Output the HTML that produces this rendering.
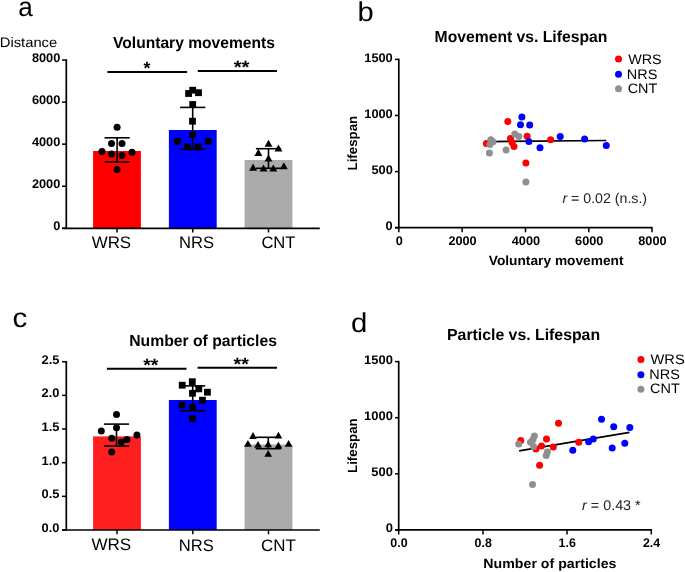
<!DOCTYPE html>
<html><head><meta charset="utf-8"><style>
html,body{margin:0;padding:0;background:#fff;width:685px;height:572px;overflow:hidden}
svg{display:block;will-change:transform}
text{font-family:"Liberation Sans", sans-serif;text-rendering:geometricPrecision}
</style></head><body>
<svg width="685" height="572" viewBox="0 0 685 572" font-family='"Liberation Sans", sans-serif'>
<rect width="685" height="572" fill="#fff"/>
<text transform="translate(18.16,16.10) scale(0.9634,1)" font-size="27.134" font-weight="normal" text-anchor="start" fill="#000">a</text>
<text transform="translate(-0.25,47.33) scale(1.0790,1)" font-size="13.704" font-weight="normal" text-anchor="start" fill="#000">Distance</text>
<text transform="translate(113.01,47.55) scale(0.9753,1)" font-size="16.003" font-weight="bold" text-anchor="start" fill="#000">Voluntary movements</text>
<line x1="62.00" y1="228.30" x2="66.30" y2="228.30" stroke="#000" stroke-width="1.5"/>
<line x1="62.00" y1="186.23" x2="66.30" y2="186.23" stroke="#000" stroke-width="1.5"/>
<line x1="62.00" y1="144.16" x2="66.30" y2="144.16" stroke="#000" stroke-width="1.5"/>
<line x1="62.00" y1="102.09" x2="66.30" y2="102.09" stroke="#000" stroke-width="1.5"/>
<line x1="62.00" y1="60.02" x2="66.30" y2="60.02" stroke="#000" stroke-width="1.5"/>
<text transform="translate(60.33,230.05) scale(1.0186,1)" font-size="12.563" font-weight="bold" text-anchor="end" fill="#000">0</text>
<text transform="translate(60.33,187.98) scale(1.0186,1)" font-size="12.563" font-weight="bold" text-anchor="end" fill="#000">2000</text>
<text transform="translate(60.33,145.91) scale(1.0186,1)" font-size="12.563" font-weight="bold" text-anchor="end" fill="#000">4000</text>
<text transform="translate(60.33,103.84) scale(1.0186,1)" font-size="12.563" font-weight="bold" text-anchor="end" fill="#000">6000</text>
<text transform="translate(60.33,61.77) scale(1.0186,1)" font-size="12.563" font-weight="bold" text-anchor="end" fill="#000">8000</text>
<line x1="66.30" y1="59.27" x2="66.30" y2="229.10" stroke="#000" stroke-width="1.7"/>
<rect x="93.10" y="151.00" width="47.80" height="77.30" fill="#ff0000"/>
<rect x="168.90" y="130.00" width="47.80" height="98.30" fill="#0000ff"/>
<rect x="244.60" y="160.00" width="47.80" height="68.30" fill="#ababab"/>
<line x1="62.00" y1="228.30" x2="319.80" y2="228.30" stroke="#000" stroke-width="1.7"/>
<line x1="117.00" y1="228.30" x2="117.00" y2="232.50" stroke="#000" stroke-width="1.5"/>
<line x1="192.80" y1="228.30" x2="192.80" y2="232.50" stroke="#000" stroke-width="1.5"/>
<line x1="268.50" y1="228.30" x2="268.50" y2="232.50" stroke="#000" stroke-width="1.5"/>
<text transform="translate(91.66,248.13) scale(1.0180,1)" font-size="16.646" font-weight="normal" text-anchor="start" fill="#000">WRS</text>
<text transform="translate(179.04,248.17) scale(0.9986,1)" font-size="16.646" font-weight="normal" text-anchor="start" fill="#000">NRS</text>
<text transform="translate(261.40,247.54) scale(0.9974,1)" font-size="16.646" font-weight="normal" text-anchor="start" fill="#000">CNT</text>
<circle cx="117.1" cy="127.3" r="3.5" fill="#000"/>
<circle cx="111.5" cy="143.5" r="3.5" fill="#000"/>
<circle cx="122" cy="143.5" r="3.5" fill="#000"/>
<circle cx="102" cy="151.5" r="3.5" fill="#000"/>
<circle cx="111.5" cy="154.1" r="3.5" fill="#000"/>
<circle cx="122" cy="155.5" r="3.5" fill="#000"/>
<circle cx="132" cy="152.3" r="3.5" fill="#000"/>
<circle cx="117.1" cy="169.4" r="3.5" fill="#000"/>
<line x1="117.10" y1="137.80" x2="117.10" y2="162.00" stroke="#000" stroke-width="1.6"/>
<line x1="104.50" y1="137.80" x2="129.70" y2="137.80" stroke="#000" stroke-width="1.6"/>
<line x1="104.50" y1="162.00" x2="129.70" y2="162.00" stroke="#000" stroke-width="1.6"/>
<rect x="185.20" y="90.10" width="6.8" height="6.8" fill="#000"/>
<rect x="189.30" y="86.80" width="6.8" height="6.8" fill="#000"/>
<rect x="195.10" y="89.30" width="6.8" height="6.8" fill="#000"/>
<rect x="189.30" y="101.10" width="6.8" height="6.8" fill="#000"/>
<rect x="189.10" y="117.80" width="6.8" height="6.8" fill="#000"/>
<rect x="189.30" y="131.10" width="6.8" height="6.8" fill="#000"/>
<rect x="174.20" y="138.00" width="6.8" height="6.8" fill="#000"/>
<rect x="204.70" y="138.00" width="6.8" height="6.8" fill="#000"/>
<rect x="184.30" y="143.60" width="6.8" height="6.8" fill="#000"/>
<rect x="194.80" y="143.60" width="6.8" height="6.8" fill="#000"/>
<line x1="192.70" y1="107.40" x2="192.70" y2="149.40" stroke="#000" stroke-width="1.6"/>
<line x1="180.10" y1="107.40" x2="205.30" y2="107.40" stroke="#000" stroke-width="1.6"/>
<line x1="180.10" y1="149.40" x2="205.30" y2="149.40" stroke="#000" stroke-width="1.6"/>
<line x1="268.50" y1="148.70" x2="268.50" y2="168.30" stroke="#000" stroke-width="1.6"/>
<line x1="255.90" y1="148.70" x2="281.10" y2="148.70" stroke="#000" stroke-width="1.6"/>
<line x1="255.90" y1="168.30" x2="281.10" y2="168.30" stroke="#000" stroke-width="1.6"/>
<polygon points="268.50,139.70 264.55,146.80 272.45,146.80" fill="#000"/>
<polygon points="278.50,144.40 274.55,151.50 282.45,151.50" fill="#000"/>
<polygon points="258.40,148.80 254.45,155.90 262.35,155.90" fill="#000"/>
<polygon points="268.50,154.40 264.55,161.50 272.45,161.50" fill="#000"/>
<polygon points="253.10,163.60 249.15,170.70 257.05,170.70" fill="#000"/>
<polygon points="263.50,164.40 259.55,171.50 267.45,171.50" fill="#000"/>
<polygon points="273.30,164.40 269.35,171.50 277.25,171.50" fill="#000"/>
<polygon points="283.80,162.20 279.85,169.30 287.75,169.30" fill="#000"/>
<line x1="107.40" y1="72.00" x2="187.10" y2="72.00" stroke="#000" stroke-width="2"/>
<line x1="197.80" y1="71.00" x2="277.00" y2="71.00" stroke="#000" stroke-width="2"/>
<text transform="translate(147.04,74.37) scale(1.0018,1)" font-size="17.734" font-weight="bold" text-anchor="middle" fill="#000">*</text>
<text transform="translate(241.59,73.28) scale(1.1450,1)" font-size="17.734" font-weight="bold" text-anchor="middle" fill="#000">**</text>
<text transform="translate(12.49,327.00) scale(1.0892,1)" font-size="27.134" font-weight="normal" text-anchor="start" fill="#000">c</text>
<text transform="translate(129.18,345.81) scale(0.9835,1)" font-size="16.003" font-weight="bold" text-anchor="start" fill="#000">Number of particles</text>
<line x1="62.00" y1="530.00" x2="66.30" y2="530.00" stroke="#000" stroke-width="1.5"/>
<line x1="62.00" y1="496.34" x2="66.30" y2="496.34" stroke="#000" stroke-width="1.5"/>
<line x1="62.00" y1="462.68" x2="66.30" y2="462.68" stroke="#000" stroke-width="1.5"/>
<line x1="62.00" y1="429.02" x2="66.30" y2="429.02" stroke="#000" stroke-width="1.5"/>
<line x1="62.00" y1="395.36" x2="66.30" y2="395.36" stroke="#000" stroke-width="1.5"/>
<line x1="62.00" y1="361.70" x2="66.30" y2="361.70" stroke="#000" stroke-width="1.5"/>
<text transform="translate(59.46,531.88) scale(1.0236,1)" font-size="12.563" font-weight="bold" text-anchor="end" fill="#000">0.0</text>
<text transform="translate(59.46,498.22) scale(1.0236,1)" font-size="12.563" font-weight="bold" text-anchor="end" fill="#000">0.5</text>
<text transform="translate(59.46,464.56) scale(1.0236,1)" font-size="12.563" font-weight="bold" text-anchor="end" fill="#000">1.0</text>
<text transform="translate(59.46,430.90) scale(1.0236,1)" font-size="12.563" font-weight="bold" text-anchor="end" fill="#000">1.5</text>
<text transform="translate(59.46,397.24) scale(1.0236,1)" font-size="12.563" font-weight="bold" text-anchor="end" fill="#000">2.0</text>
<text transform="translate(59.46,363.58) scale(1.0236,1)" font-size="12.563" font-weight="bold" text-anchor="end" fill="#000">2.5</text>
<line x1="66.30" y1="360.95" x2="66.30" y2="530.80" stroke="#000" stroke-width="1.7"/>
<rect x="93.10" y="436.40" width="47.80" height="93.60" fill="#ff1f1f"/>
<rect x="168.90" y="400.00" width="47.80" height="130.00" fill="#0000ff"/>
<rect x="244.60" y="444.50" width="47.80" height="85.50" fill="#ababab"/>
<line x1="62.00" y1="530.00" x2="319.80" y2="530.00" stroke="#000" stroke-width="1.7"/>
<line x1="117.00" y1="530.00" x2="117.00" y2="534.30" stroke="#000" stroke-width="1.5"/>
<line x1="192.80" y1="530.00" x2="192.80" y2="534.30" stroke="#000" stroke-width="1.5"/>
<line x1="268.50" y1="530.00" x2="268.50" y2="534.30" stroke="#000" stroke-width="1.5"/>
<text transform="translate(91.38,550.49) scale(1.0268,1)" font-size="16.646" font-weight="normal" text-anchor="start" fill="#000">WRS</text>
<text transform="translate(178.76,551.09) scale(0.9948,1)" font-size="16.646" font-weight="normal" text-anchor="start" fill="#000">NRS</text>
<text transform="translate(261.07,551.06) scale(1.0179,1)" font-size="16.646" font-weight="normal" text-anchor="start" fill="#000">CNT</text>
<circle cx="116.5" cy="414.5" r="3.5" fill="#000"/>
<circle cx="101.3" cy="430.9" r="3.5" fill="#000"/>
<circle cx="116.5" cy="427.8" r="3.5" fill="#000"/>
<circle cx="136.9" cy="435.1" r="3.5" fill="#000"/>
<circle cx="111.7" cy="438.3" r="3.5" fill="#000"/>
<circle cx="126.9" cy="439.6" r="3.5" fill="#000"/>
<circle cx="121.2" cy="442.1" r="3.5" fill="#000"/>
<circle cx="111.7" cy="451.9" r="3.5" fill="#000"/>
<line x1="116.50" y1="424.10" x2="116.50" y2="446.10" stroke="#000" stroke-width="1.6"/>
<line x1="103.90" y1="424.10" x2="129.10" y2="424.10" stroke="#000" stroke-width="1.6"/>
<line x1="103.90" y1="446.10" x2="129.10" y2="446.10" stroke="#000" stroke-width="1.6"/>
<line x1="192.70" y1="385.90" x2="192.70" y2="410.70" stroke="#000" stroke-width="1.6"/>
<line x1="180.10" y1="385.90" x2="205.30" y2="385.90" stroke="#000" stroke-width="1.6"/>
<line x1="180.10" y1="410.70" x2="205.30" y2="410.70" stroke="#000" stroke-width="1.6"/>
<rect x="178.80" y="381.80" width="6.8" height="6.8" fill="#000"/>
<rect x="188.90" y="378.30" width="6.8" height="6.8" fill="#000"/>
<rect x="195.40" y="385.50" width="6.8" height="6.8" fill="#000"/>
<rect x="189.10" y="389.90" width="6.8" height="6.8" fill="#000"/>
<rect x="204.00" y="388.80" width="6.8" height="6.8" fill="#000"/>
<rect x="199.10" y="396.80" width="6.8" height="6.8" fill="#000"/>
<rect x="178.80" y="401.70" width="6.8" height="6.8" fill="#000"/>
<rect x="189.10" y="404.30" width="6.8" height="6.8" fill="#000"/>
<rect x="189.10" y="415.40" width="6.8" height="6.8" fill="#000"/>
<line x1="268.30" y1="437.30" x2="268.30" y2="448.70" stroke="#000" stroke-width="1.6"/>
<line x1="255.70" y1="437.30" x2="280.90" y2="437.30" stroke="#000" stroke-width="1.6"/>
<line x1="255.70" y1="448.70" x2="280.90" y2="448.70" stroke="#000" stroke-width="1.6"/>
<polygon points="253.00,432.10 249.15,438.90 256.85,438.90" fill="#000"/>
<polygon points="278.40,431.70 274.55,438.50 282.25,438.50" fill="#000"/>
<polygon points="247.90,440.00 244.05,446.80 251.75,446.80" fill="#000"/>
<polygon points="258.00,440.90 254.15,447.70 261.85,447.70" fill="#000"/>
<polygon points="268.20,440.40 264.35,447.20 272.05,447.20" fill="#000"/>
<polygon points="278.40,441.70 274.55,448.50 282.25,448.50" fill="#000"/>
<polygon points="288.60,440.00 284.75,446.80 292.45,446.80" fill="#000"/>
<polygon points="268.20,450.00 264.35,456.80 272.05,456.80" fill="#000"/>
<line x1="106.90" y1="368.80" x2="186.50" y2="368.80" stroke="#000" stroke-width="2"/>
<line x1="197.60" y1="367.80" x2="277.00" y2="367.80" stroke="#000" stroke-width="2"/>
<text transform="translate(150.74,370.92) scale(1.0984,1)" font-size="17.734" font-weight="bold" text-anchor="middle" fill="#000">**</text>
<text transform="translate(241.21,369.57) scale(1.1053,1)" font-size="17.734" font-weight="bold" text-anchor="middle" fill="#000">**</text>
<text transform="translate(357.60,20.51) scale(1.0720,1)" font-size="27.134" font-weight="normal" text-anchor="start" fill="#000">b</text>
<text transform="translate(434.60,42.25) scale(0.9809,1)" font-size="16.003" font-weight="bold" text-anchor="start" fill="#000">Movement vs. Lifespan</text>
<line x1="395.00" y1="227.70" x2="398.80" y2="227.70" stroke="#000" stroke-width="1.5"/>
<line x1="395.00" y1="171.60" x2="398.80" y2="171.60" stroke="#000" stroke-width="1.5"/>
<line x1="395.00" y1="115.50" x2="398.80" y2="115.50" stroke="#000" stroke-width="1.5"/>
<line x1="395.00" y1="59.40" x2="398.80" y2="59.40" stroke="#000" stroke-width="1.5"/>
<text transform="translate(392.75,229.88) scale(1.0205,1)" font-size="12.563" font-weight="bold" text-anchor="end" fill="#000">0</text>
<text transform="translate(392.75,173.78) scale(1.0205,1)" font-size="12.563" font-weight="bold" text-anchor="end" fill="#000">500</text>
<text transform="translate(392.75,117.68) scale(1.0205,1)" font-size="12.563" font-weight="bold" text-anchor="end" fill="#000">1000</text>
<text transform="translate(392.75,61.58) scale(1.0205,1)" font-size="12.563" font-weight="bold" text-anchor="end" fill="#000">1500</text>
<line x1="398.80" y1="58.65" x2="398.80" y2="228.50" stroke="#000" stroke-width="1.7"/>
<line x1="395.00" y1="227.70" x2="652.60" y2="227.70" stroke="#000" stroke-width="1.7"/>
<line x1="398.80" y1="227.70" x2="398.80" y2="232.30" stroke="#000" stroke-width="1.5"/>
<text transform="translate(399.22,244.91) scale(1.0124,1)" font-size="12.563" font-weight="bold" text-anchor="middle" fill="#000">0</text>
<line x1="462.10" y1="227.70" x2="462.10" y2="232.30" stroke="#000" stroke-width="1.5"/>
<text transform="translate(462.52,244.91) scale(1.0124,1)" font-size="12.563" font-weight="bold" text-anchor="middle" fill="#000">2000</text>
<line x1="525.50" y1="227.70" x2="525.50" y2="232.30" stroke="#000" stroke-width="1.5"/>
<text transform="translate(525.92,244.91) scale(1.0124,1)" font-size="12.563" font-weight="bold" text-anchor="middle" fill="#000">4000</text>
<line x1="588.80" y1="227.70" x2="588.80" y2="232.30" stroke="#000" stroke-width="1.5"/>
<text transform="translate(589.22,244.91) scale(1.0124,1)" font-size="12.563" font-weight="bold" text-anchor="middle" fill="#000">6000</text>
<line x1="652.00" y1="227.70" x2="652.00" y2="232.30" stroke="#000" stroke-width="1.5"/>
<text transform="translate(652.42,244.91) scale(1.0124,1)" font-size="12.563" font-weight="bold" text-anchor="middle" fill="#000">8000</text>
<text transform="translate(488.76,265.45) scale(1.0326,1)" font-size="13.319" font-weight="bold" text-anchor="start" fill="#000">Voluntary movement</text>
<text transform="translate(356.9,143.15) rotate(-90)" font-size="13.3" font-weight="bold" text-anchor="middle">Lifespan</text>
<line x1="489.00" y1="141.60" x2="606.30" y2="140.50" stroke="#000" stroke-width="1.7"/>
<circle cx="486.4" cy="143.5" r="3.5" fill="#ff0000"/>
<circle cx="507.8" cy="121.6" r="3.5" fill="#ff0000"/>
<circle cx="510.5" cy="138.5" r="3.5" fill="#ff0000"/>
<circle cx="512" cy="142.5" r="3.5" fill="#ff0000"/>
<circle cx="514" cy="146.5" r="3.5" fill="#ff0000"/>
<circle cx="527.1" cy="136.2" r="3.5" fill="#ff0000"/>
<circle cx="525.9" cy="162.9" r="3.5" fill="#ff0000"/>
<circle cx="550.6" cy="139.8" r="3.5" fill="#ff0000"/>
<circle cx="521.9" cy="117" r="3.5" fill="#0000ff"/>
<circle cx="520.5" cy="124.8" r="3.5" fill="#0000ff"/>
<circle cx="529.7" cy="125.1" r="3.5" fill="#0000ff"/>
<circle cx="528.9" cy="141.5" r="3.5" fill="#0000ff"/>
<circle cx="540" cy="147.7" r="3.5" fill="#0000ff"/>
<circle cx="560.2" cy="136.6" r="3.5" fill="#0000ff"/>
<circle cx="584.6" cy="138.9" r="3.5" fill="#0000ff"/>
<circle cx="606.3" cy="145.4" r="3.5" fill="#0000ff"/>
<circle cx="490.8" cy="139.7" r="3.5" fill="#8f8f8f"/>
<circle cx="493" cy="141.7" r="3.5" fill="#8f8f8f"/>
<circle cx="489.9" cy="144.5" r="3.5" fill="#8f8f8f"/>
<circle cx="489.4" cy="153.1" r="3.5" fill="#8f8f8f"/>
<circle cx="506.1" cy="150" r="3.5" fill="#8f8f8f"/>
<circle cx="514.8" cy="134" r="3.5" fill="#8f8f8f"/>
<circle cx="518.8" cy="136.6" r="3.5" fill="#8f8f8f"/>
<circle cx="525.9" cy="182.1" r="3.5" fill="#8f8f8f"/>
<circle cx="618.5" cy="59" r="3.5" fill="#ff0000"/>
<circle cx="618.5" cy="74.2" r="3.5" fill="#0000ff"/>
<circle cx="618.5" cy="88.8" r="3.5" fill="#8f8f8f"/>
<text transform="translate(628.18,63.71) scale(1.0479,1)" font-size="13.703" font-weight="normal" text-anchor="start" fill="#000">WRS</text>
<text transform="translate(626.78,78.65) scale(1.0581,1)" font-size="13.703" font-weight="normal" text-anchor="start" fill="#000">NRS</text>
<text transform="translate(627.66,93.12) scale(1.0514,1)" font-size="13.703" font-weight="normal" text-anchor="start" fill="#000">CNT</text>
<text transform="translate(562.41,203.21) scale(1.0028,1)" font-size="14.131" font-weight="normal" text-anchor="start" fill="#222"><tspan font-style="italic">r</tspan> = 0.02 (n.s.)</text>
<text transform="translate(351.05,331.60) scale(1.0817,1)" font-size="27.134" font-weight="normal" text-anchor="start" fill="#000">d</text>
<text transform="translate(447.03,339.52) scale(0.9892,1)" font-size="16.003" font-weight="bold" text-anchor="start" fill="#000">Particle vs. Lifespan</text>
<line x1="395.00" y1="529.90" x2="398.70" y2="529.90" stroke="#000" stroke-width="1.5"/>
<line x1="395.00" y1="473.80" x2="398.70" y2="473.80" stroke="#000" stroke-width="1.5"/>
<line x1="395.00" y1="417.70" x2="398.70" y2="417.70" stroke="#000" stroke-width="1.5"/>
<line x1="395.00" y1="361.60" x2="398.70" y2="361.60" stroke="#000" stroke-width="1.5"/>
<text transform="translate(392.86,532.38) scale(1.0302,1)" font-size="12.563" font-weight="bold" text-anchor="end" fill="#000">0</text>
<text transform="translate(392.86,476.28) scale(1.0302,1)" font-size="12.563" font-weight="bold" text-anchor="end" fill="#000">500</text>
<text transform="translate(392.86,420.18) scale(1.0302,1)" font-size="12.563" font-weight="bold" text-anchor="end" fill="#000">1000</text>
<text transform="translate(392.86,364.08) scale(1.0302,1)" font-size="12.563" font-weight="bold" text-anchor="end" fill="#000">1500</text>
<line x1="398.70" y1="360.85" x2="398.70" y2="530.70" stroke="#000" stroke-width="1.7"/>
<line x1="395.00" y1="529.90" x2="652.00" y2="529.90" stroke="#000" stroke-width="1.7"/>
<line x1="398.70" y1="529.90" x2="398.70" y2="534.50" stroke="#000" stroke-width="1.5"/>
<text transform="translate(398.92,547.20) scale(0.9884,1)" font-size="12.563" font-weight="bold" text-anchor="middle" fill="#000">0.0</text>
<line x1="483.00" y1="529.90" x2="483.00" y2="534.50" stroke="#000" stroke-width="1.5"/>
<text transform="translate(483.22,547.20) scale(0.9884,1)" font-size="12.563" font-weight="bold" text-anchor="middle" fill="#000">0.8</text>
<line x1="567.00" y1="529.90" x2="567.00" y2="534.50" stroke="#000" stroke-width="1.5"/>
<text transform="translate(567.22,547.20) scale(0.9884,1)" font-size="12.563" font-weight="bold" text-anchor="middle" fill="#000">1.6</text>
<line x1="651.30" y1="529.90" x2="651.30" y2="534.50" stroke="#000" stroke-width="1.5"/>
<text transform="translate(651.52,547.20) scale(0.9884,1)" font-size="12.563" font-weight="bold" text-anchor="middle" fill="#000">2.4</text>
<text transform="translate(483.37,567.70) scale(1.0654,1)" font-size="13.319" font-weight="bold" text-anchor="start" fill="#000">Number of particles</text>
<text transform="translate(356.6,445.6) rotate(-90)" font-size="13.3" font-weight="bold" text-anchor="middle">Lifespan</text>
<line x1="519.10" y1="450.80" x2="629.50" y2="432.30" stroke="#000" stroke-width="1.7"/>
<circle cx="520.7" cy="440.6" r="3.5" fill="#ff0000"/>
<circle cx="536" cy="449.1" r="3.5" fill="#ff0000"/>
<circle cx="541.5" cy="445.9" r="3.5" fill="#ff0000"/>
<circle cx="546.5" cy="439" r="3.5" fill="#ff0000"/>
<circle cx="553.3" cy="446.9" r="3.5" fill="#ff0000"/>
<circle cx="558.5" cy="423.3" r="3.5" fill="#ff0000"/>
<circle cx="539.6" cy="465.3" r="3.5" fill="#ff0000"/>
<circle cx="578.7" cy="442.2" r="3.5" fill="#ff0000"/>
<circle cx="572.8" cy="450.3" r="3.5" fill="#0000ff"/>
<circle cx="588.6" cy="441.7" r="3.5" fill="#0000ff"/>
<circle cx="593.3" cy="439" r="3.5" fill="#0000ff"/>
<circle cx="601.5" cy="419.2" r="3.5" fill="#0000ff"/>
<circle cx="613.7" cy="426.7" r="3.5" fill="#0000ff"/>
<circle cx="629.8" cy="427.5" r="3.5" fill="#0000ff"/>
<circle cx="612.2" cy="448" r="3.5" fill="#0000ff"/>
<circle cx="624.8" cy="443.3" r="3.5" fill="#0000ff"/>
<circle cx="518.7" cy="444.1" r="3.5" fill="#8f8f8f"/>
<circle cx="534.4" cy="435.9" r="3.5" fill="#8f8f8f"/>
<circle cx="533" cy="439.5" r="3.5" fill="#8f8f8f"/>
<circle cx="530.5" cy="442.2" r="3.5" fill="#8f8f8f"/>
<circle cx="533.6" cy="446.4" r="3.5" fill="#8f8f8f"/>
<circle cx="547.4" cy="451.9" r="3.5" fill="#8f8f8f"/>
<circle cx="546.2" cy="455.4" r="3.5" fill="#8f8f8f"/>
<circle cx="532.5" cy="484.6" r="3.5" fill="#8f8f8f"/>
<circle cx="640.9" cy="359.6" r="3.5" fill="#ff0000"/>
<circle cx="640.9" cy="374.8" r="3.5" fill="#0000ff"/>
<circle cx="640.9" cy="389.3" r="3.5" fill="#8f8f8f"/>
<text transform="translate(650.49,363.63) scale(1.0702,1)" font-size="13.703" font-weight="normal" text-anchor="start" fill="#000">WRS</text>
<text transform="translate(649.33,378.91) scale(1.0585,1)" font-size="13.703" font-weight="normal" text-anchor="start" fill="#000">NRS</text>
<text transform="translate(650.05,393.17) scale(1.0559,1)" font-size="13.703" font-weight="normal" text-anchor="start" fill="#000">CNT</text>
<text transform="translate(582.08,509.92) scale(1.0139,1)" font-size="14.131" font-weight="normal" text-anchor="start" fill="#222"><tspan font-style="italic">r</tspan> = 0.43 *</text>
</svg>
</body></html>
